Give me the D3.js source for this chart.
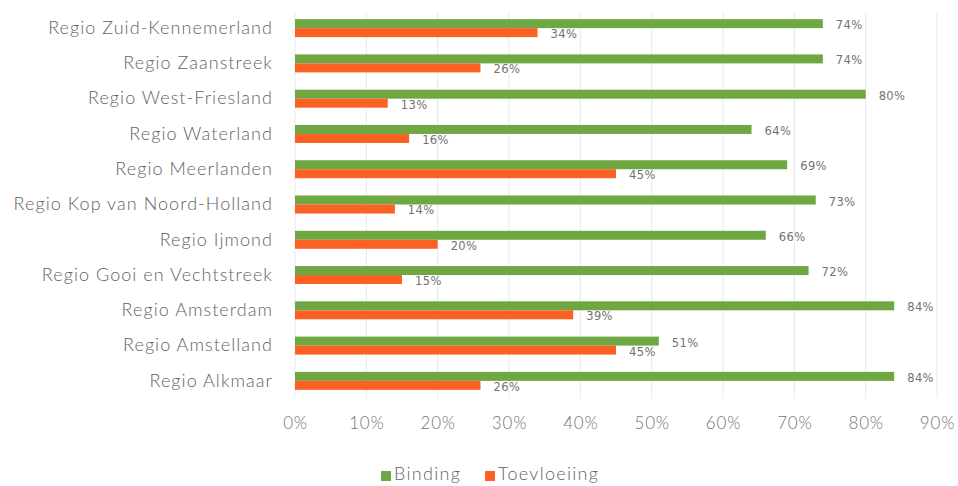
<!DOCTYPE html>
<html><head><meta charset="utf-8">
<script src="https://cdn.jsdelivr.net/npm/d3@7"></script>
<style>
html,body{margin:0;padding:0;background:#fff;}
svg{display:block;}
</style></head>
<body>
<svg id="chart" width="958" height="486"></svg>
<script>
const categories = ["Regio Zuid-Kennemerland","Regio Zaanstreek","Regio West-Friesland","Regio Waterland","Regio Meerlanden","Regio Kop van Noord-Holland","Regio Ijmond","Regio Gooi en Vechtstreek","Regio Amsterdam","Regio Amstelland","Regio Alkmaar"];
const binding = [74,74,80,64,69,73,66,72,84,51,84];
const toevloeiing = [34,26,13,16,45,14,20,15,39,45,26];
const seriesNames = ["Binding","Toevloeiing"];
const xTicks = [0,10,20,30,40,50,60,70,80,90];

const colors = {Binding:"#6fa843", Toevloeiing:"#fb6122"};
const svg = d3.select("#chart");
const margin = {left:295, right:21, top:10.5, bottom:87.5};
const W = 958, H = 486;
const font = "Lato, 'Open Sans', sans-serif";

const x = d3.scaleLinear().domain([0,90]).range([margin.left, W-margin.right]);
const y = d3.scaleBand().domain(categories).range([margin.top, H-margin.bottom]).paddingInner(0.49).paddingOuter(0.245);
const sub = d3.scaleBand().domain(seriesNames).range([0, y.bandwidth()]);

// gridlines
svg.append("g").selectAll("line").data(xTicks).join("line")
  .attr("x1",d=>x(d)).attr("x2",d=>x(d))
  .attr("y1",margin.top+2).attr("y2",H-margin.bottom)
  .attr("stroke","#e3eaf2").attr("stroke-width",1);

// x axis tick labels
const xAxis = d3.axisBottom(x).tickValues(xTicks).tickFormat(d=>d+"%").tickSize(0).tickPadding(0);
const gx = svg.append("g").attr("transform",`translate(0,${H-margin.bottom+18})`).call(xAxis);
gx.select(".domain").remove();
gx.selectAll("text").attr("fill","#747474").style("font-family",font).style("font-size","17px")
  .style("font-weight","300").style("letter-spacing","0.8px");

// y axis category labels
const yAxis = d3.axisLeft(y).tickSize(0).tickPadding(22);
const gy = svg.append("g").attr("transform",`translate(${margin.left},0)`).call(yAxis);
gy.select(".domain").remove();
gy.selectAll("text").attr("fill","#636363").style("font-family",font).style("font-size","18px")
  .style("font-weight","300").style("letter-spacing","1.05px");

const rows = categories.map((c,i)=>({cat:c, vals:[{s:"Binding",v:binding[i]},{s:"Toevloeiing",v:toevloeiing[i]}]}));
const g = svg.append("g").selectAll("g").data(rows).join("g").attr("transform",d=>`translate(0,${y(d.cat)})`);
g.selectAll("rect").data(d=>d.vals).join("rect")
  .attr("x",x(0)).attr("y",d=>sub(d.s)).attr("width",d=>x(d.v)-x(0)).attr("height",sub.bandwidth())
  .attr("fill",d=>colors[d.s]);
g.selectAll("text").data(d=>d.vals).join("text")
  .attr("x",d=>x(d.v)+13).attr("y",d=>sub(d.s)+sub.bandwidth()/2+2)
  .attr("dominant-baseline","middle")
  .attr("fill","#727272").style("font-family","'DejaVu Sans', Verdana, sans-serif").style("font-size","11.5px")
  .style("letter-spacing","0.4px")
  .text(d=>d.v+"%");

// legend
const legend = svg.append("g").attr("transform","translate(381,476)");
const items = [{s:"Binding",x:0},{s:"Toevloeiing",x:104}];
const li = legend.selectAll("g").data(items).join("g").attr("transform",d=>`translate(${d.x},0)`);
li.append("rect").attr("x",0).attr("y",-5).attr("width",10).attr("height",10).attr("fill",d=>colors[d.s]);
li.append("text").attr("x",13).attr("y",0).attr("dominant-baseline","middle")
  .attr("fill","#636363").style("font-family",font).style("font-size","18px")
  .style("font-weight","300").style("letter-spacing","1.3px").text(d=>d.s);
</script>
</body></html>
